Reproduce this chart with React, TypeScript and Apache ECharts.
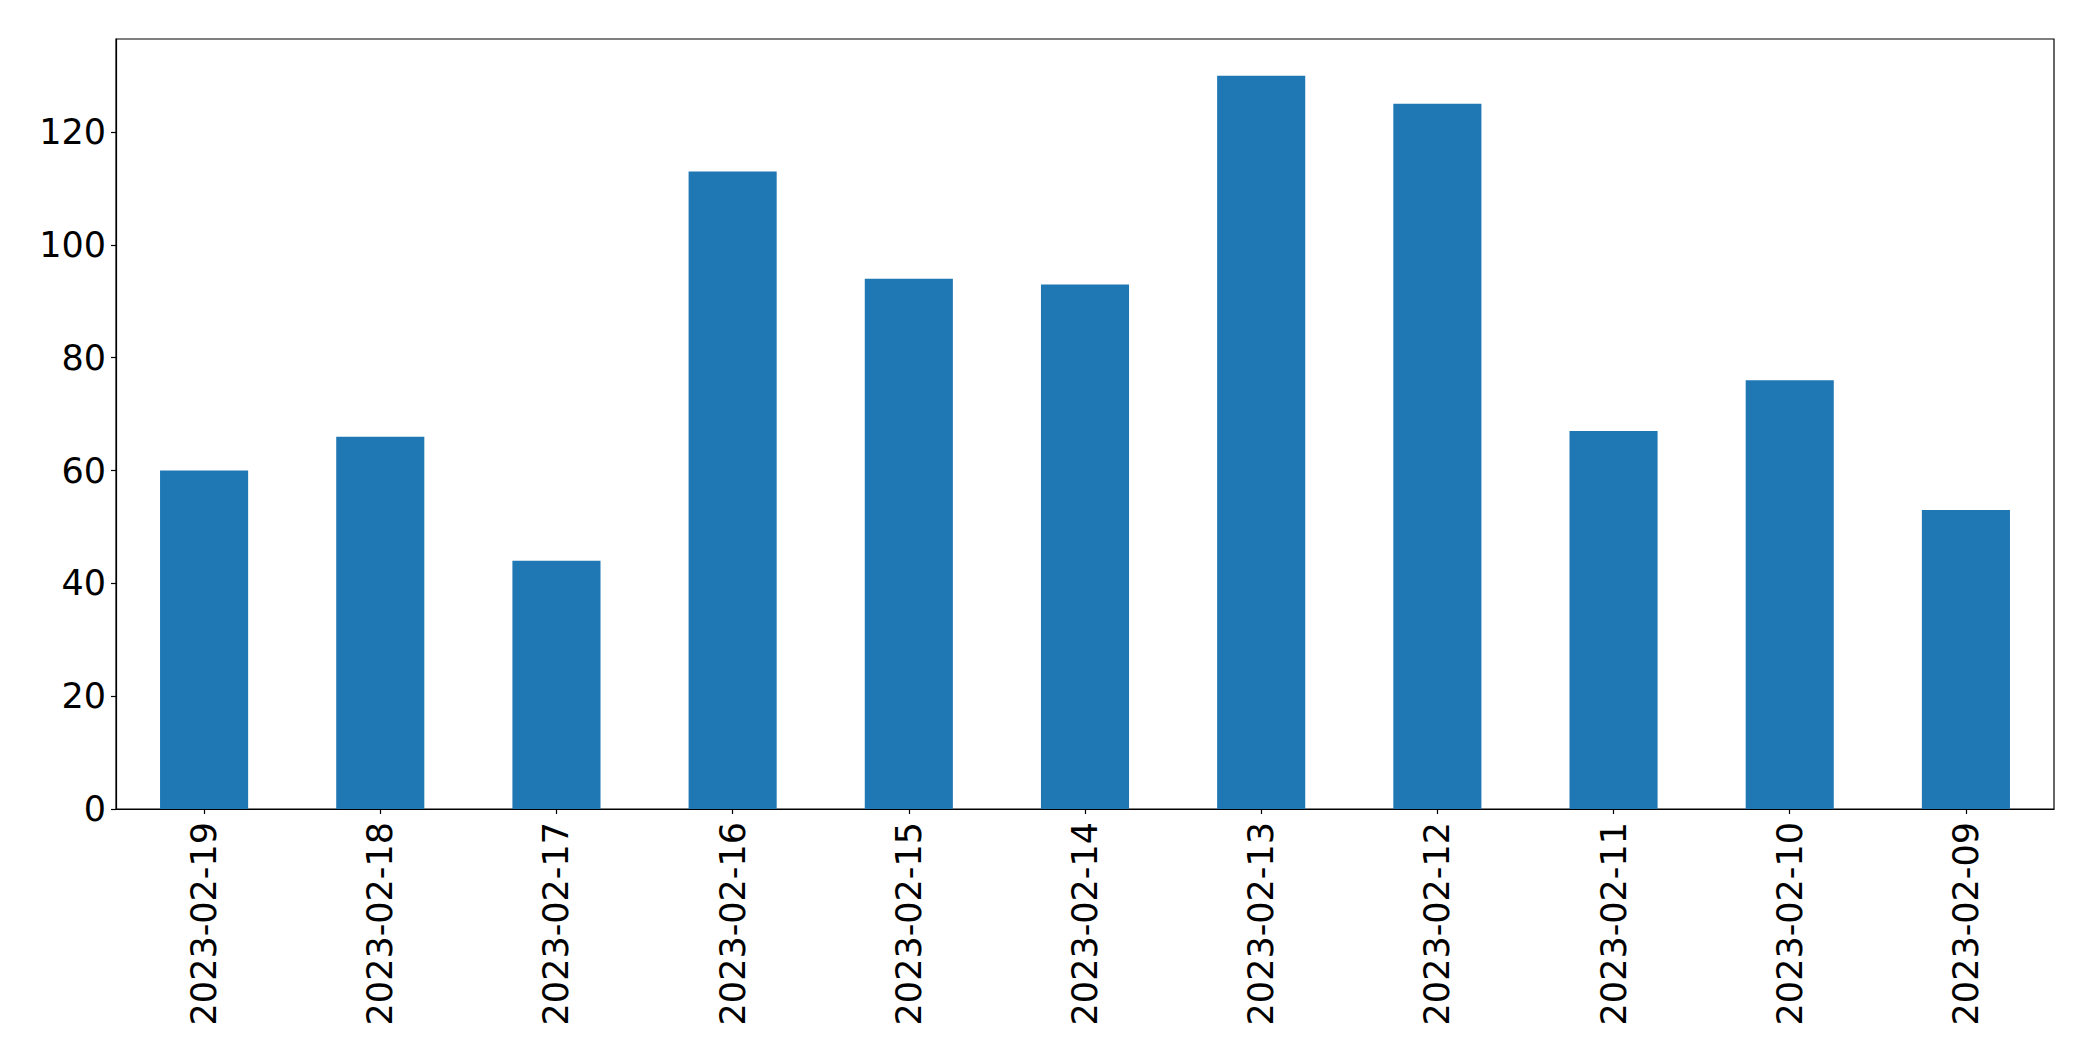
import React, { useEffect, useRef } from "react";
import * as echarts from "echarts";

const categories = [
  "2023-02-19",
  "2023-02-18",
  "2023-02-17",
  "2023-02-16",
  "2023-02-15",
  "2023-02-14",
  "2023-02-13",
  "2023-02-12",
  "2023-02-11",
  "2023-02-10",
  "2023-02-09",
];
const values = [60, 66, 44, 113, 94, 93, 130, 125, 67, 76, 53];
const yTicks = [0, 20, 40, 60, 80, 100, 120];

export default function App() {
  const ref = useRef<HTMLDivElement>(null);
  useEffect(() => {
    document.body.style.margin = "0";
    const chart = echarts.init(ref.current!, null, { renderer: "svg" });
    const font = "DejaVu Sans";
    chart.setOption({
      animation: false,
      backgroundColor: "#ffffff",
      grid: {
        left: 116,
        top: 39,
        right: 39,
        bottom: 252,
        show: true,
        borderColor: "#000000",
        borderWidth: 1.2,
        containLabel: false,
      },
      xAxis: {
        type: "category",
        data: categories,
        axisLine: { show: true, lineStyle: { color: "#000000", width: 1.2 } },
        axisTick: { show: true, alignWithLabel: true, length: 5, lineStyle: { color: "#000000", width: 1.2 } },
        axisLabel: {
          rotate: 90,
          margin: 13,
          fontSize: 35,
          fontFamily: font,
          color: "#000000",
          interval: 0,
        },
        splitLine: { show: false },
      },
      yAxis: {
        type: "value",
        min: 0,
        max: 136.5,
        interval: 20,
        axisLine: { show: true, lineStyle: { color: "#000000", width: 1.2 } },
        axisTick: { show: true, length: 5, lineStyle: { color: "#000000", width: 1.2 }, customValues: yTicks },
        axisLabel: {
          margin: 10,
          fontSize: 35,
          fontFamily: font,
          color: "#000000",
          customValues: yTicks,
        },
        splitLine: { show: false },
      },
      series: [
        {
          type: "bar",
          data: values,
          barWidth: "50%",
          itemStyle: { color: "#1f77b4" },
        },
      ],
    });
    return () => chart.dispose();
  }, []);
  return <div ref={ref} style={{ width: 2093, height: 1061 }} />;
}
